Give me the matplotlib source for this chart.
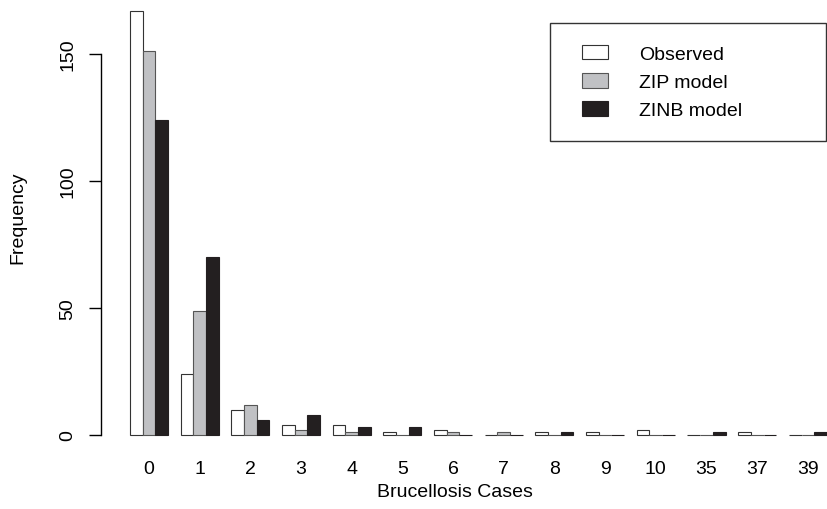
import matplotlib.pyplot as plt
import numpy as np
from matplotlib.patches import Rectangle
from matplotlib.legend_handler import HandlerPatch

plt.rcParams['font.family'] = ['Liberation Sans', 'DejaVu Sans']

casos = ['0', '1', '2', '3', '4', '5', '6', '7', '8', '9', '10', '35', '37', '39']
observado = [167, 24, 10, 4, 4, 1, 2, 0, 1, 1, 2, 0, 1, 0]
zip_modelo = [151, 49, 12, 2, 1, 0, 1, 1, 0, 0, 0, 0, 0, 0]
zinb_modelo = [124, 70, 6, 8, 3, 3, 0, 0, 1, 0, 0, 1, 0, 1]
rotulos = ['Observed', 'ZIP model', 'ZINB model']

W, H = 828, 510
fig = plt.figure(figsize=(W / 100, H / 100), dpi=100)
# area do grafico em pixels: x 101..828, y 5..440
ax = fig.add_axes([101 / W, 1 - 440 / H, (828 - 101) / W, (440 - 5) / H])

# estilo barplot do R: 3 barras por grupo + 1 espaco
inicio = 1 + 4 * np.arange(len(casos))
b1 = ax.bar(inicio + 0.5, observado, width=1, color='white', edgecolor='#333333', linewidth=0.8)
b2 = ax.bar(inicio + 1.5, zip_modelo, width=1, color='#c0c1c4', edgecolor='#555555', linewidth=0.8)
b3 = ax.bar(inicio + 2.5, zinb_modelo, width=1, color='#231f20', edgecolor='#231f20', linewidth=0.8)

ax.set_xlim(-1.29, 56.09)
ax.set_ylim(-1.57, 169.7)

for lado in ['top', 'right', 'bottom']:
    ax.spines[lado].set_visible(False)
ax.spines['left'].set_bounds(0, 150)
ax.spines['left'].set_linewidth(1.0)

ax.set_yticks([0, 50, 100, 150])
ax.set_yticklabels(['0', '50', '100', '150'], rotation=90, va='center', fontsize=14)
ax.tick_params(axis='y', length=8.6, width=1.0, pad=9)

ax.set_xticks(inicio + 1.5)
ax.set_xticklabels(casos, fontsize=14)
ax.tick_params(axis='x', length=0, pad=15)

fig.text(455 / W, 1 - 493 / H, 'Brucellosis Cases', ha='center', va='center', fontsize=14)
fig.text(18 / W, 1 - 218 / H, 'Frequency', ha='center', va='center', rotation=90, fontsize=14)


# quadradinho da legenda encostado a direita do espaco do handle
def quadrado(legend, orig_handle, xdescent, ydescent, width, height, fontsize):
    w0 = 1.34 * fontsize
    return Rectangle((-xdescent + width - w0, -ydescent), w0, height)


# caixa da legenda: x 550..826, y 24..138 (pixels)
handles = [b1.patches[0], b2.patches[0], b3.patches[0]]
leg = ax.legend(handles, rotulos, loc='upper left',
                bbox_to_anchor=(550 / W, 1 - 138 / H, 276 / W, 114 / H),
                bbox_transform=fig.transFigure, mode='expand',
                fontsize=14, frameon=True, fancybox=False, edgecolor='#333333', framealpha=1,
                handlelength=1.87, handleheight=0.77, handletextpad=1.6, labelspacing=0.52,
                borderpad=1.13, borderaxespad=0,
                handler_map={Rectangle: HandlerPatch(patch_func=quadrado)})
leg.get_frame().set_linewidth(1.0)

fig.savefig('out.png', dpi=100)
